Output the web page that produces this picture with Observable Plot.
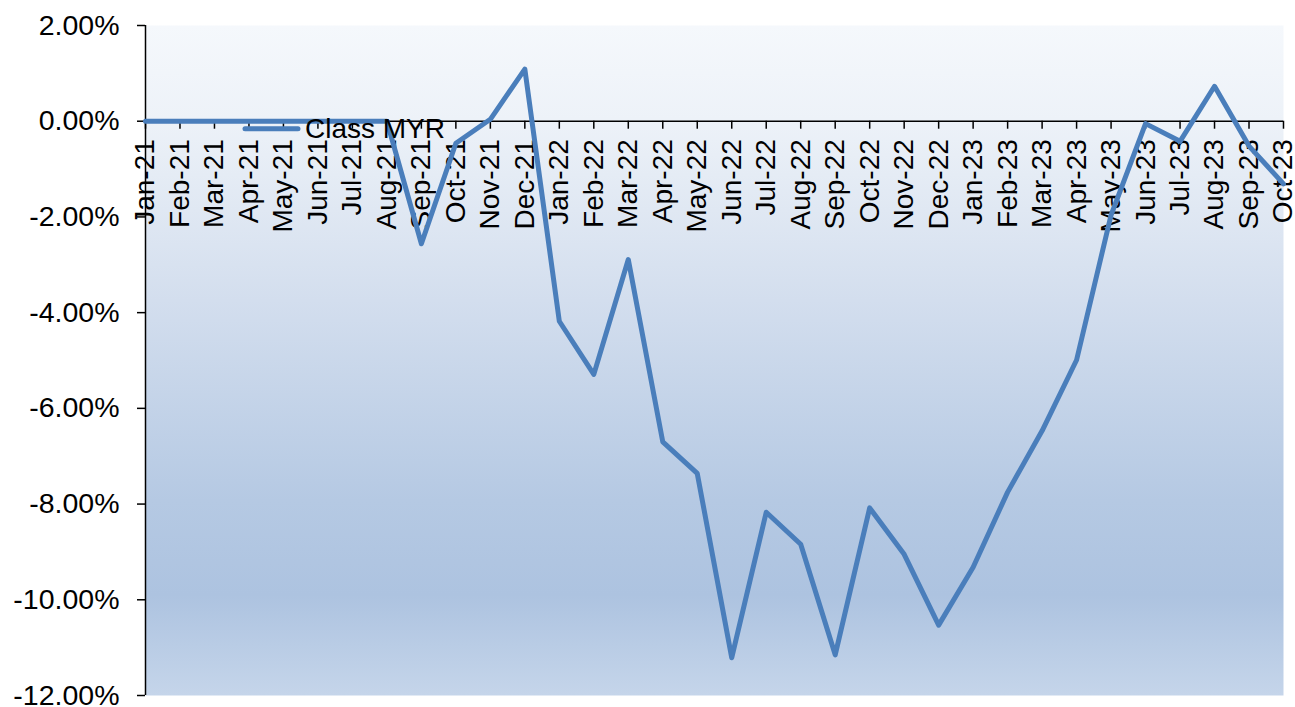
<!DOCTYPE html>
<html>
<head>
<meta charset="utf-8">
<script src="https://cdn.jsdelivr.net/npm/d3@7"></script>
<script src="https://cdn.jsdelivr.net/npm/@observablehq/plot@0.6"></script>
<style>
  html, body { margin: 0; padding: 0; background: white; }
</style>
</head>
<body>
<div id="chart"></div>
<script>
const months = ["Jan-21","Feb-21","Mar-21","Apr-21","May-21","Jun-21","Jul-21","Aug-21","Sep-21","Oct-21","Nov-21","Dec-21",
  "Jan-22","Feb-22","Mar-22","Apr-22","May-22","Jun-22","Jul-22","Aug-22","Sep-22","Oct-22","Nov-22","Dec-22",
  "Jan-23","Feb-23","Mar-23","Apr-23","May-23","Jun-23","Jul-23","Aug-23","Sep-23","Oct-23"];
const classMYR = [0,0,0,0,0,0,0,0,-2.56,-0.46,0.04,1.09,
  -4.18,-5.29,-2.89,-6.70,-7.36,-11.21,-8.17,-8.84,-11.15,-8.08,-9.05,-10.53,
  -9.32,-7.75,-6.47,-4.99,-1.96,-0.05,-0.42,0.73,-0.52,-1.31];
const yTicks = [2,0,-2,-4,-6,-8,-10,-12];
const seriesName = "Class MYR";
const lineColor = "#4a7ebb";

const data = months.map((m, i) => ({month: m, value: classMYR[i]}));

const W = 1295, H = 707, mL = 145, mR = 12, mT = 25, mB = 12;
const font = "'Liberation Sans', Arial, sans-serif";

const chart = Plot.plot({
  width: W, height: H,
  marginLeft: mL, marginRight: mR, marginTop: mT, marginBottom: mB,
  style: {fontFamily: font, fontSize: "28px", color: "black", background: "white", overflow: "visible"},
  x: {type: "point", domain: months, padding: 0, round: false, label: null},
  y: {domain: [-12, 2], label: null},
  marks: [
    Plot.frame({fill: "url(#bg)", stroke: null}),
    Plot.ruleY([0], {stroke: "black", strokeWidth: 1.5}),
    Plot.ruleX([months[0]], {stroke: "black", strokeWidth: 1.5}),
    Plot.axisY({ticks: yTicks, tickFormat: d => d.toFixed(2) + "%", tickSize: 8, tickPadding: 18, fontSize: 28.5, strokeWidth: 1.5, label: null}),
    Plot.axisX({tickSize: 8, tickRotate: -90, tickPadding: 10, fontSize: 28, strokeWidth: 1.5, label: null}),
    Plot.line(data, {x: "month", y: "value", stroke: lineColor, strokeWidth: 5, strokeLinejoin: "round", strokeLinecap: "round"})
  ]
});

document.getElementById("chart").appendChild(chart);

const svg = d3.select(chart);
const defs = svg.insert("defs", ":first-child");
const grad = defs.append("linearGradient").attr("id", "bg").attr("x1", 0).attr("y1", 0).attr("x2", 0).attr("y2", 1);
[[0, "#f5f8fc"], [0.14, "#edf2f8"], [0.41, "#d3deee"], [0.71, "#b5c9e3"], [0.85, "#adc3e0"], [1, "#c5d5ea"]]
  .forEach(([o, c]) => grad.append("stop").attr("offset", o).attr("stop-color", c));

// move the x axis up to the zero line
const y0 = chart.scale("y").apply(0);
const shift = y0 - (H - mB);
svg.selectAll('g[aria-label="x-axis tick"], g[aria-label="x-axis tick label"]').each(function() {
  const t = this.getAttribute("transform") || "";
  this.setAttribute("transform", `translate(0,${shift}) ${t}`);
});
// line on top of axis
svg.selectAll('g[aria-label="line"]').raise();

// legend
const lg = svg.append("g");
lg.append("line").attr("x1", 245).attr("x2", 298).attr("y1", y0 + 8).attr("y2", y0 + 8)
  .attr("stroke", lineColor).attr("stroke-width", 5).attr("stroke-linecap", "round");
lg.append("text").attr("x", 305).attr("y", y0 + 17).attr("font-family", font).attr("font-size", 28)
  .attr("text-anchor", "start").attr("fill", "black").text(seriesName);
</script>
</body>
</html>
